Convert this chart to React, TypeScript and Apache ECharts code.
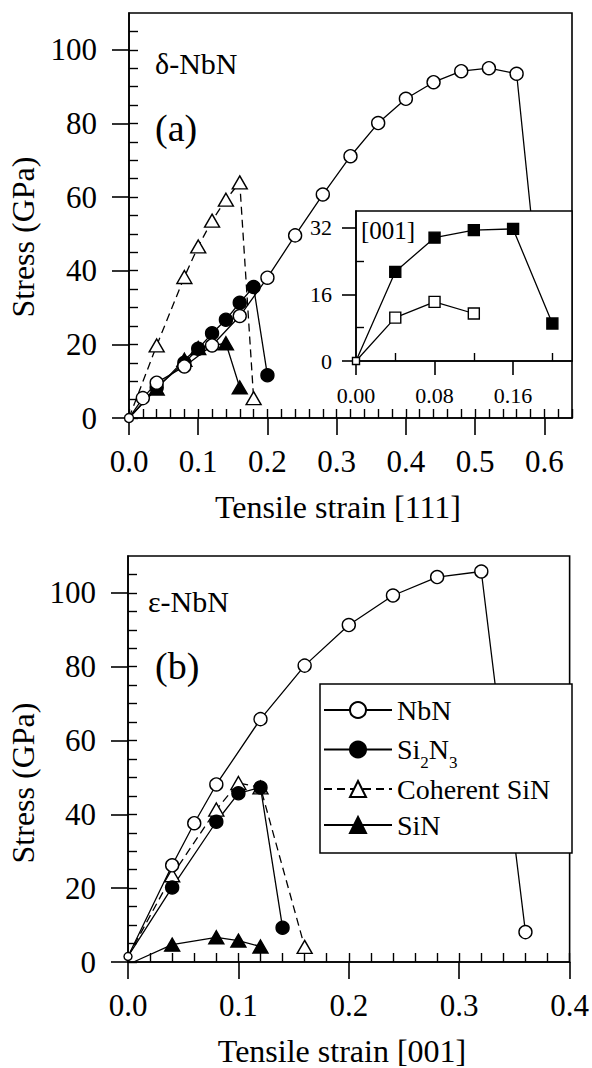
import React, { useEffect, useRef } from 'react';
import * as echarts from 'echarts';

const FONT = 'Liberation Serif';

// ---------- Panel (a): delta-NbN, tensile strain [111] ----------
const nbnA_x = [0, 0.02, 0.04, 0.08, 0.12, 0.16, 0.2, 0.24, 0.28, 0.32, 0.36, 0.4, 0.44, 0.48, 0.52, 0.56, 0.6];
const nbnA_y = [0, 5.4, 9.6, 14.0, 19.7, 27.7, 38.1, 49.6, 60.7, 71.1, 80.1, 86.7, 91.2, 94.2, 95.0, 93.5, 20.0];
const si2n3A_x = [0, 0.04, 0.08, 0.1, 0.12, 0.14, 0.16, 0.18, 0.2];
const si2n3A_y = [0, 8.3, 15.0, 18.8, 23.0, 26.7, 31.3, 35.6, 11.6];
const cohA_x = [0, 0.04, 0.08, 0.1, 0.12, 0.14, 0.16, 0.18];
const cohA_y = [0, 19.7, 38.3, 46.6, 53.6, 59.3, 64.0, 5.4];
const sinA_x = [0, 0.04, 0.08, 0.1, 0.14, 0.16];
const sinA_y = [0, 8.0, 15.8, 19.0, 20.3, 8.3];

// ---------- Inset of panel (a): [001] ----------
const insetFilled_x = [0, 0.04, 0.08, 0.12, 0.16, 0.2];
const insetFilled_y = [0, 21.4, 29.6, 31.4, 31.7, 9.0];
const insetOpen_x = [0, 0.04, 0.08, 0.12];
const insetOpen_y = [0, 10.4, 14.2, 11.4];

// ---------- Panel (b): epsilon-NbN, tensile strain [001] ----------
const nbnB_x = [0, 0.04, 0.06, 0.08, 0.12, 0.16, 0.2, 0.24, 0.28, 0.32, 0.36];
const nbnB_y = [1.5, 26.2, 37.6, 48.1, 65.8, 80.3, 91.3, 99.3, 104.3, 105.8, 8.1];
const si2n3B_x = [0, 0.04, 0.08, 0.1, 0.12, 0.14];
const si2n3B_y = [1.5, 20.2, 38.0, 45.7, 47.3, 9.3];
const cohB_x = [0, 0.04, 0.08, 0.1, 0.12, 0.16];
const cohB_y = [1.5, 23.5, 41.3, 48.5, 47.3, 4.1];
const sinB_x = [0.005, 0.04, 0.08, 0.1, 0.12];
const sinB_y = [0, 4.7, 6.7, 5.8, 4.2];

// ---------- Tick labels ----------
const stressTicks = [0, 20, 40, 60, 80, 100];
const strainTicksA = [0, 0.1, 0.2, 0.3, 0.4, 0.5, 0.6];
const strainTicksB = [0, 0.1, 0.2, 0.3, 0.4];
const insetStressTicks = [0, 16, 32];
const insetStrainTicks = [0, 0.08, 0.16];

const legendNames = ['NbN', 'Si2N3', 'Coherent SiN', 'SiN'];

function range(start: number, end: number, step: number): number[] {
  const out: number[] = [];
  const n = Math.round((end - start) / step);
  for (let i = 0; i <= n; i++) out.push(Math.round((start + i * step) * 10000) / 10000);
  return out;
}

type Kind = 'openCircle' | 'filledCircle' | 'openTriangle' | 'filledTriangle' | 'openSquare' | 'filledSquare';

function mkSeries(
  name: string,
  xs: number[],
  ys: number[],
  kind: Kind,
  axisIdx: number,
  opts: { dashed?: boolean; z?: number; originSize?: number } = {}
) {
  const open = kind.startsWith('open');
  const symbol = kind.endsWith('Circle') ? 'circle' : kind.endsWith('Triangle') ? 'triangle' : 'rect';
  const size = symbol === 'circle' ? 13 : symbol === 'triangle' ? [15, 13] : 11;
  const data = xs.map((x, i) => {
    if (i === 0 && x < 0.01) {
      return opts.originSize
        ? { value: [x, ys[i]], symbolSize: opts.originSize }
        : { value: [x, ys[i]], symbol: 'none' };
    }
    return [x, ys[i]];
  });
  return {
    type: 'line',
    name,
    xAxisIndex: axisIdx,
    yAxisIndex: axisIdx,
    data,
    symbol,
    symbolSize: size,
    showAllSymbol: true,
    z: opts.z ?? 2,
    lineStyle: { color: '#000', width: 1.3, type: opts.dashed ? [8, 5] : 'solid' },
    itemStyle: { color: open ? '#fff' : '#000', borderColor: '#000', borderWidth: 1.4 },
    emphasis: { disabled: true },
    silent: true,
  };
}

function majorX(grid: number, max: number, interval: number, ticks: number[], fontSize: number, margin: number, tickLen: number, digits: number, z = 0) {
  return {
    type: 'value', gridIndex: grid, min: 0, max, interval, z,
    axisLine: { show: true, onZero: false, lineStyle: { color: '#000', width: 1.6 } },
    axisTick: { show: true, length: tickLen, lineStyle: { color: '#000', width: 1.6 }, customValues: ticks },
    axisLabel: {
      show: true, customValues: ticks, fontSize, fontFamily: FONT, color: '#000', margin,
      formatter: (v: number) => v.toFixed(digits),
    },
    splitLine: { show: false },
  };
}

function minorAxis(grid: number, max: number, interval: number, ticks: number[], tickLen: number, z = 0) {
  return {
    type: 'value', gridIndex: grid, min: 0, max, interval, z,
    axisLine: { show: false },
    axisTick: { show: true, length: tickLen, lineStyle: { color: '#000', width: 1.4 }, customValues: ticks },
    axisLabel: { show: false },
    splitLine: { show: false },
  };
}

function majorY(grid: number, max: number, interval: number, ticks: number[], fontSize: number, margin: number, tickLen: number, z = 0) {
  return {
    type: 'value', gridIndex: grid, min: 0, max, interval, z,
    axisLine: { show: true, onZero: false, lineStyle: { color: '#000', width: 1.6 } },
    axisTick: { show: true, length: tickLen, lineStyle: { color: '#000', width: 1.6 }, customValues: ticks },
    axisLabel: {
      show: true, customValues: ticks, fontSize, fontFamily: FONT, color: '#000', margin,
      formatter: (v: number) => String(Math.round(v)),
    },
    splitLine: { show: false },
  };
}

function txt(text: string, x: number, y: number, fontSize: number, align: string = 'left', rotation = 0) {
  return {
    type: 'text', x, y, rotation, z: 10, silent: true,
    style: { text, fontSize, fontFamily: FONT, fill: '#000', align, verticalAlign: 'middle' },
  };
}

export default function App() {
  const ref = useRef<HTMLDivElement>(null);
  useEffect(() => {
    if (!ref.current) return;
    const chart = echarts.init(ref.current, null, { renderer: 'svg' });
    const option: any = {
      animation: false,
      backgroundColor: '#fff',
      textStyle: { fontFamily: FONT, color: '#000' },
      grid: [
        { left: 129, top: 13, width: 443, height: 405, show: true, borderColor: '#000', borderWidth: 1.6, backgroundColor: 'transparent', z: 0 },
        { left: 356, top: 211, width: 216, height: 150, show: true, borderColor: '#000', borderWidth: 1.5, backgroundColor: '#fff', z: 3 },
        { left: 128, top: 556, width: 443, height: 406, show: true, borderColor: '#000', borderWidth: 1.6, backgroundColor: 'transparent', z: 0 },
      ],
      xAxis: [
        majorX(0, 0.64, 0.1, strainTicksA, 31, 28, 17, 1),
        minorAxis(0, 0.64, 0.02, range(0, 0.64, 0.02), 9),
        majorX(1, 0.22, 0.08, insetStrainTicks, 22, 23, 14, 2, 5),
        minorAxis(1, 0.22, 0.04, [0.04, 0.12, 0.2], 8, 5),
        majorX(2, 0.4, 0.1, strainTicksB, 31, 28, 17, 1),
        minorAxis(2, 0.4, 0.02, range(0, 0.4, 0.02), 9),
      ],
      yAxis: [
        majorY(0, 110, 20, stressTicks, 31, 32, 17),
        minorAxis(0, 110, 5, range(0, 105, 5), 9),
        majorY(1, 36, 16, insetStressTicks, 22, 24, 14, 5),
        minorAxis(1, 36, 8, [8, 24], 8, 5),
        majorY(2, 110, 20, stressTicks, 31, 32, 17),
        minorAxis(2, 110, 5, range(0, 105, 5), 9),
      ],
      legend: {
        data: legendNames,
        orient: 'vertical',
        left: 323,
        top: 692,
        padding: 0,
        itemGap: 0,
        itemWidth: 68,
        itemHeight: 20,
        selectedMode: false,
        z: 6,
        textStyle: {
          fontSize: 28, fontFamily: FONT, color: '#000', lineHeight: 36,
          rich: {
            n: { fontSize: 28, fontFamily: FONT, color: '#000', lineHeight: 36, verticalAlign: 'middle' },
            sub: { fontSize: 17, fontFamily: FONT, color: '#000', lineHeight: 17, padding: [26, 0, 0, 0], verticalAlign: 'middle' },
          },
        },
        formatter: (name: string) => (name === 'Si2N3' ? '{n|Si}{sub|2}{n|N}{sub|3}' : name),
      },
      graphic: [
        { type: 'rect', z: 3, silent: true, shape: { x: 320, y: 684, width: 252, height: 169 }, style: { fill: '#fff', stroke: '#000', lineWidth: 1.5 } },
        txt('δ-NbN', 155, 63, 30),
        txt('(a)', 155, 128, 38),
        txt('[001]', 361, 230, 25),
        txt('ε-NbN', 148, 601, 30),
        txt('(b)', 155, 666, 38),
        txt('Stress (GPa)', 23, 237, 32, 'center', Math.PI / 2),
        txt('Stress (GPa)', 23, 783, 32, 'center', Math.PI / 2),
        txt('Tensile strain [111]', 338, 507, 32, 'center'),
        txt('Tensile strain [001]', 342, 1051, 32, 'center'),
      ],
      series: [
        // panel (a)
        mkSeries('SiN', sinA_x, sinA_y, 'filledTriangle', 0),
        mkSeries('Coherent SiN', cohA_x, cohA_y, 'openTriangle', 0, { dashed: true }),
        mkSeries('Si2N3', si2n3A_x, si2n3A_y, 'filledCircle', 0),
        mkSeries('NbN', nbnA_x, nbnA_y, 'openCircle', 0, { originSize: 9 }),
        // inset
        mkSeries('[001] open', insetOpen_x, insetOpen_y, 'openSquare', 2, { z: 6, originSize: 7 }),
        mkSeries('[001] filled', insetFilled_x, insetFilled_y, 'filledSquare', 2, { z: 6 }),
        // panel (b)
        mkSeries('SiN', sinB_x, sinB_y, 'filledTriangle', 4),
        mkSeries('Coherent SiN', cohB_x, cohB_y, 'openTriangle', 4, { dashed: true }),
        mkSeries('Si2N3', si2n3B_x, si2n3B_y, 'filledCircle', 4),
        mkSeries('NbN', nbnB_x, nbnB_y, 'openCircle', 4, { originSize: 8 }),
      ],
    };
    chart.setOption(option);
    return () => chart.dispose();
  }, []);
  return (
    <div
      ref={ref}
      style={{ position: 'fixed', left: 0, top: 0, width: 592, height: 1068, background: '#fff' }}
    />
  );
}
